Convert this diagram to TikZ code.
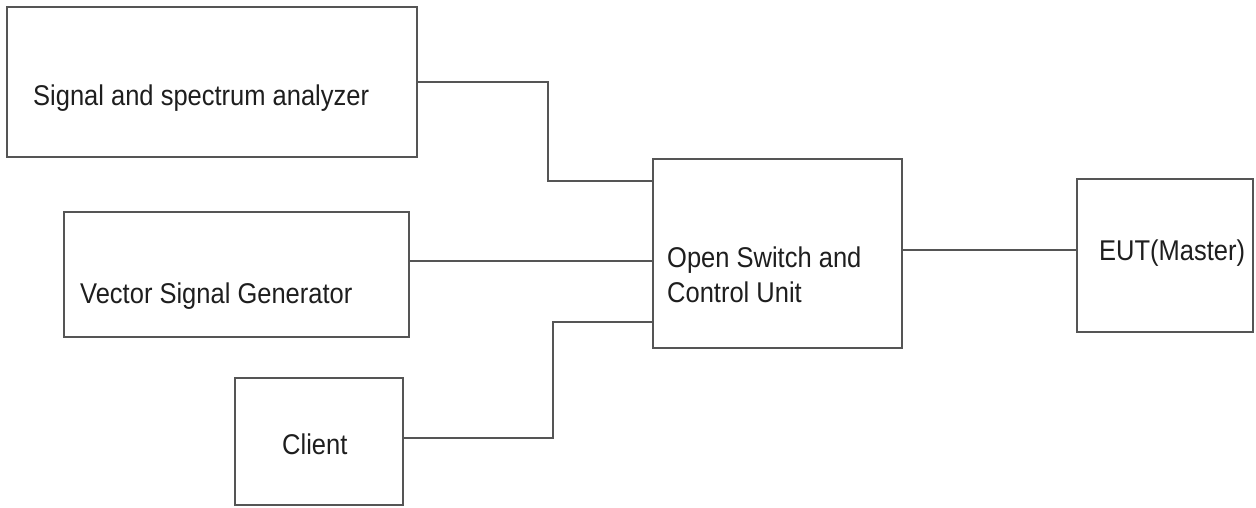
\documentclass[tikz,border=0pt]{standalone}
\usepackage{graphicx}
\usepackage{fontspec}
\setmainfont{Liberation Sans}
\usepackage{tikz}
\usetikzlibrary{calc}
\definecolor{wiregray}{HTML}{555555}
\definecolor{labelink}{HTML}{1E1E1E}
\newcommand{\tall}[1]{\scalebox{1}[1.12]{#1}}

\begin{document}
\begin{tikzpicture}[
  x=1pt, y=-1pt,
  unitbox/.style={
    draw=wiregray,
    line width=1.4pt,
    inner sep=0pt,
    outer sep=0pt,
    anchor=north west
  },
  boxlabel/.style={
    font=\fontsize{25.5}{35}\selectfont,
    text=labelink,
    inner sep=0pt,
    anchor=base west,
    align=left
  },
  wire/.style={
    draw=wiregray,
    line width=1.4pt
  }
]
  \useasboundingbox (0,0) rectangle (1256,507);

  % ----------------------------------------------------
  % SOURCES ON THE LEFT
  % ----------------------------------------------------
  \node[unitbox, minimum width=410pt, minimum height=150pt] (analyzer) at (7,7) {};
  \node[boxlabel] (analyzer_txt) at (33,105) {\tall{Signal and spectrum analyzer}};

  \node[unitbox, minimum width=345pt, minimum height=125pt] (vsg) at (64,212) {};
  \node[boxlabel] (vsg_txt) at (80,303) {\tall{Vector Signal Generator}};

  \node[unitbox, minimum width=168pt, minimum height=127pt] (client) at (235,378) {};
  \node[boxlabel] (client_txt) at (282,454) {\tall{Client}};

  % ----------------------------------------------------
  % SWITCH AND EUT
  % ----------------------------------------------------
  \node[unitbox, minimum width=249pt, minimum height=189pt] (switch) at (653,159) {};
  \node[boxlabel] (switch_txt) at (667,302) {\tall{Open Switch and}\\\tall{Control Unit}};

  \node[unitbox, minimum width=176pt, minimum height=153pt] (eut) at (1077,179) {};
  \node[boxlabel] (eut_txt) at (1099,260) {\tall{EUT(Master)}};

  % Connections (all into the switch)
  \coordinate (bend_top) at (548,181);
  \coordinate (bend_low) at (553,322);

  \draw[wire] (analyzer.east) -| (bend_top) -- (bend_top -| switch.west);
  \draw[wire] ([yshift=13.5pt]vsg.east) -- ([yshift=13.5pt]vsg.east -| switch.west);
  \draw[wire] ([yshift=3.5pt]client.east) -| (bend_low) -- (bend_low -| switch.west);

  \draw[wire] ([yshift=3.5pt]switch.east) -- ([yshift=3.5pt]switch.east -| eut.west);

\end{tikzpicture}
\end{document}
